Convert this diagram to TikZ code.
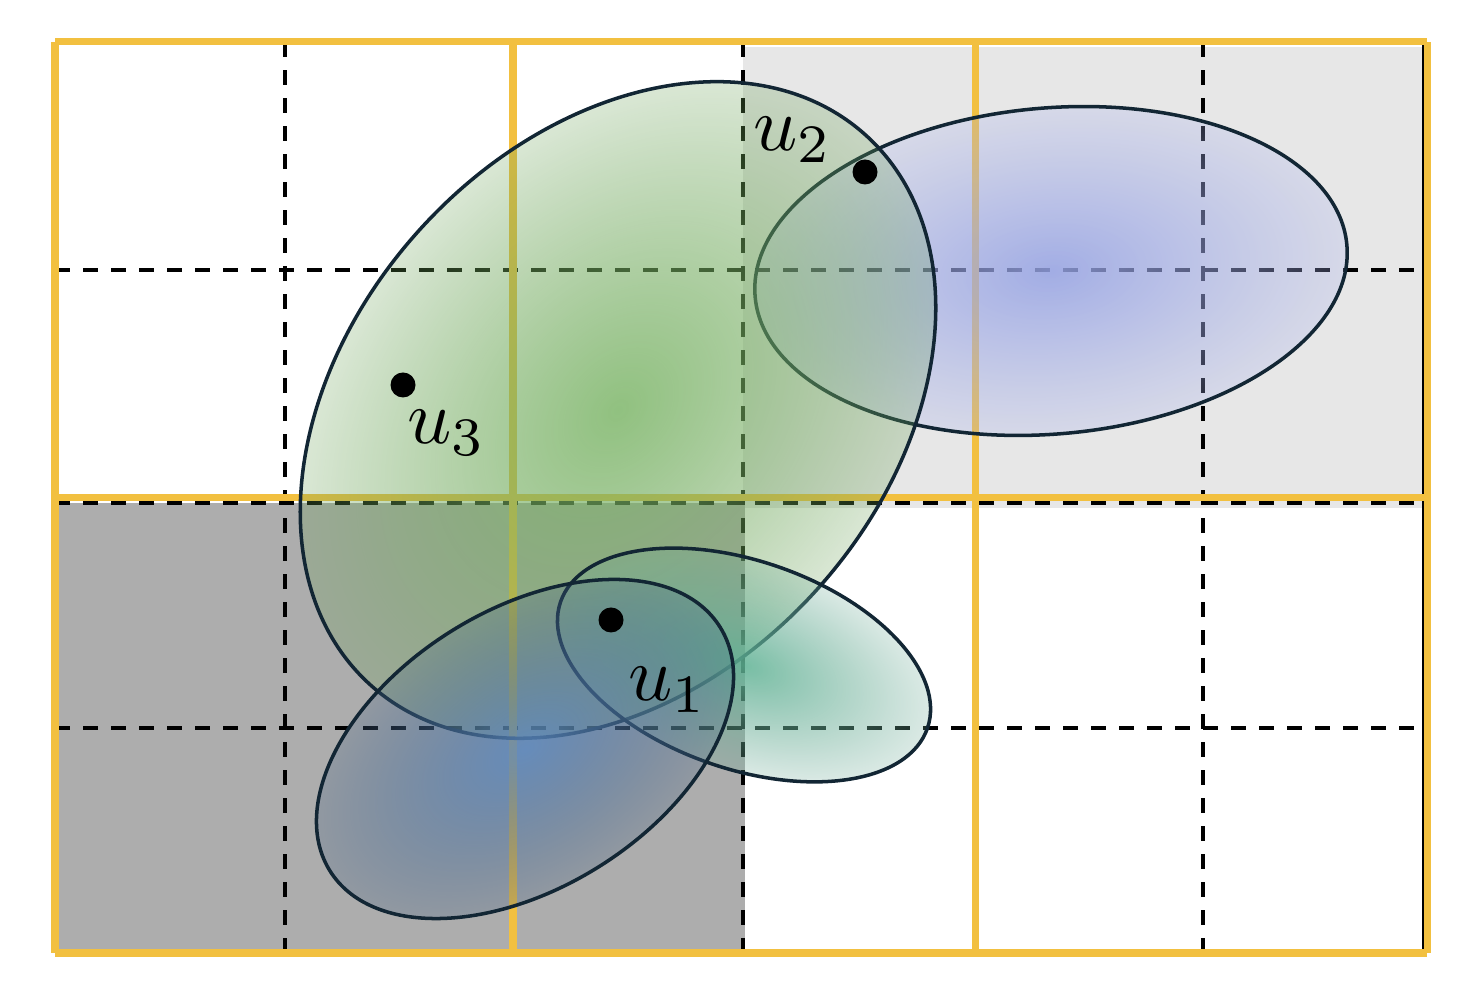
\documentclass[tikz,border=0pt]{standalone}
\usepackage{amsmath,amssymb}
\usetikzlibrary{fadings}

% 椭圆的径向透明渐变
\tikzfading[name=ellFade, inner color=transparent!15, outer color=transparent!75]

\begin{document}
\begin{tikzpicture}
        % 定义颜色
        \definecolor{gridYellow}{RGB}{242,192,64}
        \definecolor{lightGray}{RGB}{231,231,231}
        \definecolor{darkGray}{RGB}{173,173,173}
        \definecolor{edgeNavy}{RGB}{18,38,52}
        \definecolor{blueIn}{RGB}{150,163,228}
        \definecolor{blueOut}{RGB}{165,175,235}
        \definecolor{greenIn}{RGB}{125,182,105}
        \definecolor{greenOut}{RGB}{105,160,85}
        \definecolor{tealIn}{RGB}{95,178,148}
        \definecolor{tealOut}{RGB}{110,170,150}
        \definecolor{slateIn}{RGB}{90,135,190}
        \definecolor{slateOut}{RGB}{65,95,130}

        \tikzset{
            dashGrid/.style={black, line width=1.4pt, dash pattern=on 1.5mm off 1.3mm},
            mainGrid/.style={gridYellow, line width=2pt},
            ellEdge/.style={draw=edgeNavy, line width=1pt},
            userDot/.style={circle, fill=black, inner sep=0pt, minimum size=2.5mm},
            userLabel/.style={scale=2.2}
        }

        \useasboundingbox (0,0) rectangle (14.7,10);

        % 灰色背景区域
        \fill[lightGray] (7.43,4.92) rectangle (14.22,9.53);
        \fill[darkGray] (0.55,0.47) rectangle (7.45,4.97);

        % 虚线网格
        \foreach \x in {2.85,7.43,12.03}
            \draw[dashGrid] (\x,0.47) -- (\x,9.58);
        \foreach \y in {2.72,4.97,7.30}
            \draw[dashGrid] (0.55,\y) -- (14.23,\y);
        \draw[black, line width=0.6pt] (14.23,0.47) -- (14.23,9.58);

        % 黄色网格
        \foreach \x in {0.55,5.13,9.75,14.27}
            \draw[mainGrid] (\x,0.47) -- (\x,9.58);
        \foreach \y in {0.47,5.02,9.58}
            \draw[mainGrid] (0.55,\y) -- (14.27,\y);

        % 右上蓝色椭圆
        \begin{scope}[transform canvas={shift={(10.51,7.29)}, rotate=5}]
            \shade[inner color=blueIn, outer color=blueOut, path fading=ellFade] (0,0) ellipse (2.97cm and 1.63cm);
            \draw[ellEdge] (0,0) ellipse (2.97cm and 1.63cm);
        \end{scope}

        % 中间绿色椭圆
        \begin{scope}[transform canvas={shift={(6.18,5.9)}, rotate=48}]
            \shade[inner color=greenIn, outer color=greenOut, path fading=ellFade] (0,0) ellipse (3.70cm and 2.68cm);
            \draw[ellEdge] (0,0) ellipse (3.70cm and 2.68cm);
        \end{scope}

        % 青色小椭圆
        \begin{scope}[transform canvas={shift={(7.44,3.35)}, rotate=-19}]
            \shade[inner color=tealIn, outer color=tealOut, path fading=ellFade] (0,0) ellipse (1.94cm and 1.04cm);
            \draw[ellEdge] (0,0) ellipse (1.94cm and 1.04cm);
        \end{scope}

        % 左下蓝灰椭圆
        \begin{scope}[transform canvas={shift={(5.25,2.51)}, rotate=32}]
            \shade[inner color=slateIn, outer color=slateOut, path fading=ellFade] (0,0) ellipse (2.30cm and 1.39cm);
            \draw[ellEdge] (0,0) ellipse (2.30cm and 1.39cm);
        \end{scope}

        % 用户点与标注
        \node[userDot] (dotA) at (6.11,3.80) {};
        \node[userDot] (dotB) at (8.65,8.28) {};
        \node[userDot] (dotC) at (4.03,6.15) {};
        \node[userLabel] (labA) at (6.68,3.10) {$u_1$};
        \node[userLabel] (labB) at (7.93,8.60) {$u_2$};
        \node[userLabel] (labC) at (4.47,5.67) {$u_3$};
    \end{tikzpicture}
\end{document}
